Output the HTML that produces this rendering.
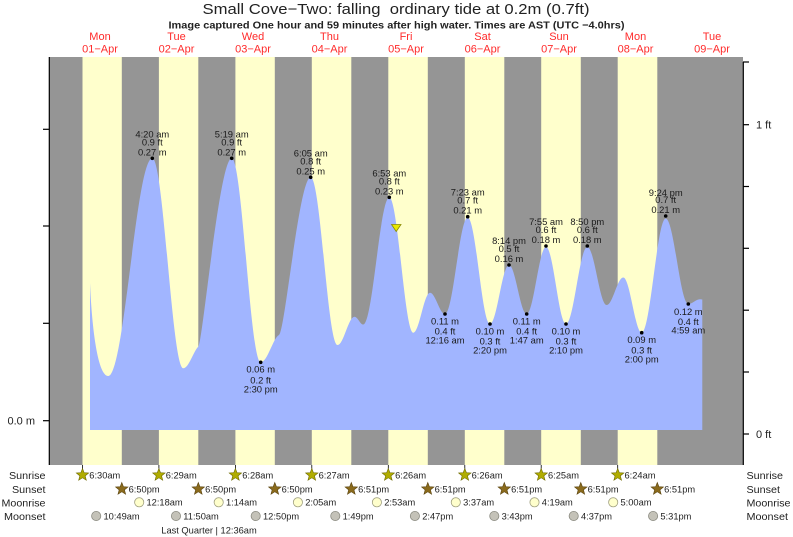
<!DOCTYPE html>
<html><head><meta charset="utf-8"><style>
html,body{margin:0;padding:0;background:#fff;}
svg{display:block;}
text{font-family:"Liberation Sans",Arial,sans-serif;}
</style></head><body>
<svg width="793" height="537" viewBox="0 0 793 537" xmlns="http://www.w3.org/2000/svg">
<defs>
<polygon id="star" points="0,-6.5 1.65,-2.27 6.18,-2.01 2.66,0.87 3.82,5.26 0,2.8 -3.82,5.26 -2.66,0.87 -6.18,-2.01 -1.65,-2.27"/>
</defs>
<!-- title -->
<text x="396" y="14" font-size="15" text-anchor="middle" fill="#222" textLength="387" lengthAdjust="spacingAndGlyphs" xml:space="preserve">Small Cove−Two: falling  ordinary tide at 0.2m (0.7ft)</text>
<text x="396.5" y="28.3" font-size="10.5" font-weight="bold" text-anchor="middle" fill="#222" textLength="456" lengthAdjust="spacingAndGlyphs">Image captured One hour and 59 minutes after high water. Times are AST (UTC −4.0hrs)</text>
<!-- day labels -->
<g font-size="11" fill="#ff2a2a" text-anchor="middle">
<text x="100" y="40">Mon</text><text x="100" y="52.5">01−Apr</text>
<text x="176.5" y="40">Tue</text><text x="176.5" y="52.5">02−Apr</text>
<text x="253" y="40">Wed</text><text x="253" y="52.5">03−Apr</text>
<text x="329.5" y="40">Thu</text><text x="329.5" y="52.5">04−Apr</text>
<text x="406" y="40">Fri</text><text x="406" y="52.5">05−Apr</text>
<text x="482.5" y="40">Sat</text><text x="482.5" y="52.5">06−Apr</text>
<text x="559" y="40">Sun</text><text x="559" y="52.5">07−Apr</text>
<text x="635.5" y="40">Mon</text><text x="635.5" y="52.5">08−Apr</text>
<text x="712" y="40">Tue</text><text x="712" y="52.5">09−Apr</text>
</g>
<!-- plot background -->
<rect x="49" y="57" width="694" height="408" fill="#959595"/>
<g fill="#ffffcc">
<rect x="82.5" y="57" width="39.3" height="408"/>
<rect x="158.9" y="57" width="39.4" height="408"/>
<rect x="235.4" y="57" width="39.4" height="408"/>
<rect x="311.8" y="57" width="39.5" height="408"/>
<rect x="388.3" y="57" width="39.5" height="408"/>
<rect x="464.8" y="57" width="39.5" height="408"/>
<rect x="541.2" y="57" width="39.6" height="408"/>
<rect x="617.7" y="57" width="39.6" height="408"/>
</g>
<!-- tide -->
<path fill="#a1b5ff" d="M90,283 C92,330 98,376 108.3,376
C124.3,376 136.3,158.3 152.3,158.3
C163.6,158.3 172,368.3 183.3,368.3
C188.8,368.3 194,350 198.3,346.7
C202.6,343.4 219.5,158.3 231.7,158.3
C242.3,158.3 250.1,362.3 260.7,362.3
C267.4,362.3 273,338 279,335
C285,332 299.2,177.3 310.7,177.3
C320.5,177.3 327.7,345 337.5,345
C343.7,345 348.3,316.7 354.5,316.7
C357.7,316.7 360.1,324.5 363.3,324.5
C372.8,324.5 379.8,197.5 389.3,197.5
C398,197.5 404.6,332.7 413.3,332.7
C419.4,332.7 423.9,292.7 430,292.7
C435.5,292.7 439.5,314 445,314
C453.3,314 459.4,217.5 467.7,217.5
C475.8,217.5 481.9,324 490,324
C496.9,324 502.1,265 509,265
C515.4,265 520.3,314 526.7,314
C533.7,314 539,247 546,247
C553.3,247 558.7,324 566,324
C573.8,324 579.5,247 587.3,247
C594.4,247 599.6,305 606.7,305
C612.7,305 617.3,277.5 623.3,277.5
C630,277.5 635,332.7 641.7,332.7
C650.4,332.7 657,218.5 665.7,218.5
C673.9,218.5 680.1,304 688.3,304
C692.6,304 695.7,299.3 700,299.3
L702.3,299.5 L702.3,430 L90,430 Z"/>
<!-- current marker -->
<polygon points="391.5,224.5 401,224.5 396.2,231.5" fill="#e8e800" stroke="#8a8a00" stroke-width="0.8"/>
<!-- dots -->
<g fill="#000">
<circle cx="152.3" cy="158.3" r="1.8"/><circle cx="231.7" cy="158.3" r="1.8"/><circle cx="310.7" cy="177.3" r="1.8"/>
<circle cx="389.3" cy="197.3" r="1.8"/><circle cx="467.7" cy="216.7" r="1.8"/><circle cx="509" cy="265" r="1.8"/>
<circle cx="546" cy="246" r="1.8"/><circle cx="587.3" cy="246" r="1.8"/><circle cx="665.7" cy="216" r="1.8"/>
<circle cx="260.7" cy="362.3" r="1.8"/><circle cx="445" cy="314" r="1.8"/><circle cx="490" cy="324" r="1.8"/>
<circle cx="526.7" cy="314" r="1.8"/><circle cx="566" cy="324" r="1.8"/><circle cx="641.7" cy="332.7" r="1.8"/>
<circle cx="688.3" cy="304" r="1.8"/>
</g>
<!-- data labels -->
<g font-size="9.4" fill="#1a1a1a" text-anchor="middle">
<text x="152.3" y="137.3">4:20 am</text><text x="152.3" y="145.3">0.9 ft</text><text x="152.3" y="155.3">0.27 m</text>
<text x="231.7" y="137.3">5:19 am</text><text x="231.7" y="145.3">0.9 ft</text><text x="231.7" y="155.3">0.27 m</text>
<text x="310.7" y="156.3">6:05 am</text><text x="310.7" y="164.3">0.8 ft</text><text x="310.7" y="174.3">0.25 m</text>
<text x="389.3" y="176.3">6:53 am</text><text x="389.3" y="184.3">0.8 ft</text><text x="389.3" y="194.3">0.23 m</text>
<text x="467.7" y="195.7">7:23 am</text><text x="467.7" y="203.7">0.7 ft</text><text x="467.7" y="213.7">0.21 m</text>
<text x="509" y="244">8:14 pm</text><text x="509" y="252">0.5 ft</text><text x="509" y="262">0.16 m</text>
<text x="546" y="225">7:55 am</text><text x="546" y="233">0.6 ft</text><text x="546" y="243">0.18 m</text>
<text x="587.3" y="225">8:50 pm</text><text x="587.3" y="233">0.6 ft</text><text x="587.3" y="243">0.18 m</text>
<text x="665.7" y="196">9:24 pm</text><text x="665.7" y="203">0.7 ft</text><text x="665.7" y="213">0.21 m</text>
<text x="260.7" y="372.7">0.06 m</text><text x="260.7" y="383.3">0.2 ft</text><text x="260.7" y="392.7">2:30 pm</text>
<text x="445" y="324.4">0.11 m</text><text x="445" y="334.6">0.4 ft</text><text x="445" y="343.6">12:16 am</text>
<text x="490" y="334.4">0.10 m</text><text x="490" y="344.6">0.3 ft</text><text x="490" y="353.6">2:20 pm</text>
<text x="526.7" y="324.4">0.11 m</text><text x="526.7" y="334.6">0.4 ft</text><text x="526.7" y="343.6">1:47 am</text>
<text x="566" y="334.4">0.10 m</text><text x="566" y="344.6">0.3 ft</text><text x="566" y="353.6">2:10 pm</text>
<text x="641.7" y="343.1">0.09 m</text><text x="641.7" y="353.3">0.3 ft</text><text x="641.7" y="362.3">2:00 pm</text>
<text x="688.3" y="315">0.12 m</text><text x="688.3" y="325">0.4 ft</text><text x="688.3" y="333.5">4:59 am</text>
</g>
<!-- axes -->
<g stroke="#000" stroke-width="1.2" fill="none">
<line x1="49.3" y1="57" x2="49.3" y2="465"/>
<line x1="43" y1="129.3" x2="49" y2="129.3"/>
<line x1="43" y1="226" x2="49" y2="226"/>
<line x1="43" y1="323.3" x2="49" y2="323.3"/>
<line x1="43" y1="420.7" x2="49" y2="420.7"/>
<line x1="743.3" y1="62" x2="743.3" y2="465"/>
<line x1="743" y1="62" x2="749" y2="62"/>
<line x1="743" y1="124.7" x2="749" y2="124.7"/>
<line x1="743" y1="186.5" x2="749" y2="186.5"/>
<line x1="743" y1="248.3" x2="749" y2="248.3"/>
<line x1="743" y1="310.2" x2="749" y2="310.2"/>
<line x1="743" y1="372" x2="749" y2="372"/>
<line x1="743" y1="434" x2="749" y2="434"/>
</g>
<g stroke="#000" stroke-width="0.8">
<line x1="82.5" y1="465" x2="82.5" y2="469"/><line x1="158.9" y1="465" x2="158.9" y2="469"/>
<line x1="235.4" y1="465" x2="235.4" y2="469"/><line x1="311.8" y1="465" x2="311.8" y2="469"/>
<line x1="388.3" y1="465" x2="388.3" y2="469"/><line x1="464.8" y1="465" x2="464.8" y2="469"/>
<line x1="541.2" y1="465" x2="541.2" y2="469"/><line x1="617.7" y1="465" x2="617.7" y2="469"/>
</g>
<g font-size="11" fill="#222">
<text x="35" y="424.7" text-anchor="end">0.0 m</text>
<text x="756" y="128.7">1 ft</text>
<text x="756" y="438">0 ft</text>
</g>
<!-- bottom rows labels -->
<g font-size="10.5" fill="#222" lengthAdjust="spacingAndGlyphs">
<text x="9" y="479" textLength="36.5" lengthAdjust="spacingAndGlyphs">Sunrise</text>
<text x="12" y="493" textLength="33.5" lengthAdjust="spacingAndGlyphs">Sunset</text>
<text x="1.5" y="506.5" textLength="44" lengthAdjust="spacingAndGlyphs">Moonrise</text>
<text x="4" y="520" textLength="41.5" lengthAdjust="spacingAndGlyphs">Moonset</text>
<text x="746.5" y="479" textLength="36.5" lengthAdjust="spacingAndGlyphs">Sunrise</text>
<text x="746.5" y="493" textLength="33.5" lengthAdjust="spacingAndGlyphs">Sunset</text>
<text x="746.5" y="506.5" textLength="44" lengthAdjust="spacingAndGlyphs">Moonrise</text>
<text x="746.5" y="520" textLength="41.5" lengthAdjust="spacingAndGlyphs">Moonset</text>
</g>
<!-- sunrise stars -->
<g fill="#b0ac00" stroke="#6e6a00" stroke-width="0.6">
<use href="#star" x="82.5" y="475"/><use href="#star" x="158.9" y="475"/><use href="#star" x="235.4" y="475"/>
<use href="#star" x="311.8" y="475"/><use href="#star" x="388.3" y="475"/><use href="#star" x="464.8" y="475"/>
<use href="#star" x="541.2" y="475"/><use href="#star" x="617.7" y="475"/>
</g>
<g fill="#8a6a1c" stroke="#5a4410" stroke-width="0.6">
<use href="#star" x="121.8" y="489"/><use href="#star" x="198.3" y="489"/><use href="#star" x="274.8" y="489"/>
<use href="#star" x="351.3" y="489"/><use href="#star" x="427.8" y="489"/><use href="#star" x="504.3" y="489"/>
<use href="#star" x="580.8" y="489"/><use href="#star" x="657.3" y="489"/>
</g>
<g fill="#ffffcc" stroke="#a0a080" stroke-width="0.8">
<circle cx="139.2" cy="502.3" r="4.6"/><circle cx="218.7" cy="502.3" r="4.6"/><circle cx="297.9" cy="502.3" r="4.6"/>
<circle cx="376.9" cy="502.3" r="4.6"/><circle cx="455.8" cy="502.3" r="4.6"/><circle cx="534.5" cy="502.3" r="4.6"/>
<circle cx="613.2" cy="502.3" r="4.6"/>
</g>
<g fill="#c4c2b8" stroke="#8a8a80" stroke-width="0.8">
<circle cx="96.2" cy="516" r="4.6"/><circle cx="176" cy="516" r="4.6"/><circle cx="255.7" cy="516" r="4.6"/>
<circle cx="335.3" cy="516" r="4.6"/><circle cx="414.9" cy="516" r="4.6"/><circle cx="494.3" cy="516" r="4.6"/>
<circle cx="573.7" cy="516" r="4.6"/><circle cx="653.1" cy="516" r="4.6"/>
</g>
<g font-size="9.3" fill="#222">
<text x="89.3" y="478.4">6:30am</text><text x="165.7" y="478.4">6:29am</text><text x="242.2" y="478.4">6:28am</text>
<text x="318.6" y="478.4">6:27am</text><text x="395.1" y="478.4">6:26am</text><text x="471.6" y="478.4">6:26am</text>
<text x="548" y="478.4">6:25am</text><text x="624.5" y="478.4">6:24am</text>
<text x="128.6" y="492.4">6:50pm</text><text x="205.1" y="492.4">6:50pm</text><text x="281.6" y="492.4">6:50pm</text>
<text x="358.1" y="492.4">6:51pm</text><text x="434.6" y="492.4">6:51pm</text><text x="511.1" y="492.4">6:51pm</text>
<text x="587.6" y="492.4">6:51pm</text><text x="664.1" y="492.4">6:51pm</text>
<text x="146.5" y="505.7">12:18am</text><text x="226" y="505.7">1:14am</text><text x="305.2" y="505.7">2:05am</text>
<text x="384.2" y="505.7">2:53am</text><text x="463.1" y="505.7">3:37am</text><text x="541.8" y="505.7">4:19am</text>
<text x="620.5" y="505.7">5:00am</text>
<text x="103.5" y="519.4">10:49am</text><text x="183.3" y="519.4">11:50am</text><text x="263" y="519.4">12:50pm</text>
<text x="342.6" y="519.4">1:49pm</text><text x="422.2" y="519.4">2:47pm</text><text x="501.6" y="519.4">3:43pm</text>
<text x="581" y="519.4">4:37pm</text><text x="660.4" y="519.4">5:31pm</text>
<text x="209" y="533.4" text-anchor="middle">Last Quarter | 12:36am</text>
</g>
</svg>
</body></html>
